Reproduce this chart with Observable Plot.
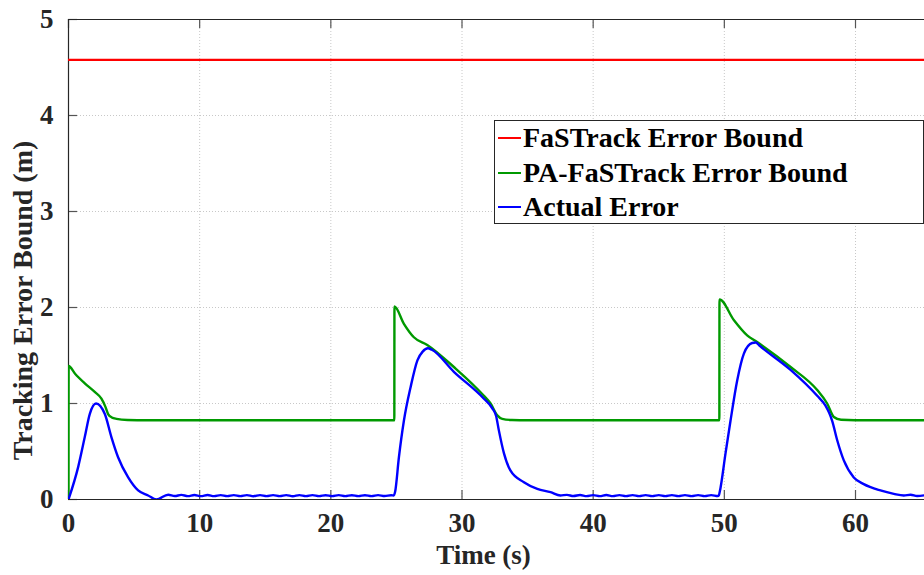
<!DOCTYPE html>
<html><head><meta charset="utf-8">
<script src="https://cdn.jsdelivr.net/npm/d3@7"></script>
<script src="https://cdn.jsdelivr.net/npm/@observablehq/plot@0.6"></script>
<style>
body{margin:0;background:#fff;}
#wrap{position:relative;width:924px;height:575px;overflow:hidden;}
#legend{position:absolute;left:494px;top:120px;width:428px;height:102px;border:1px solid #262626;background:#fff;font:bold 28px "Liberation Serif",serif;color:#000;}
.row{position:absolute;left:0;height:34px;display:flex;align-items:center;white-space:nowrap;}
.sw{display:inline-block;width:23px;height:2px;margin-left:3px;margin-right:2px;}
</style></head>
<body><div id="wrap"></div>
<script>
// ---- data ----
const xTicks = [0, 10, 20, 30, 40, 50, 60];
const yTicks = [0, 1, 2, 3, 4, 5];
const seriesNames = ["FaSTrack Error Bound", "PA-FaSTrack Error Bound", "Actual Error"];
const seriesColors = ["#ff0000", "#009900", "#0000ff"];

const redTime  = [0, 65.3];
const redBound = [4.58, 4.58];

const greenTime  = [0, 0.01, 0.5, 1.24, 2.0, 2.51, 2.8, 3.02, 3.3, 3.66, 4.5, 6, 24.84,
                    24.85, 25.57, 26.33, 27.35, 29.38, 31.67, 32.18, 32.69, 33.07, 33.8, 35, 49.62,
                    49.63, 50.72, 51.74, 52.5, 55.05, 57.08, 57.84, 58.35, 58.9, 60, 65.3];
const greenBound = [0, 1.39, 1.31, 1.21, 1.12, 1.05, 0.97, 0.89, 0.855, 0.84, 0.828, 0.825, 0.825,
                    2.01, 1.83, 1.69, 1.61, 1.38, 1.08, 1.0, 0.876, 0.84, 0.828, 0.825, 0.825,
                    2.085, 1.87, 1.71, 1.64, 1.38, 1.14, 1.0, 0.86, 0.83, 0.825, 0.825];

const blueTime = [0, 0.74, 1.24, 1.62, 2.1, 2.77, 3.27, 3.78, 4.55, 5.31, 6.07, 6.7, 7.6,
  8.1, 8.6, 9.1, 9.6, 10.1, 10.6, 11.1, 11.6, 12.1, 12.6, 13.1, 13.6, 14.1, 14.6, 15.1, 15.6,
  16.1, 16.6, 17.1, 17.6, 18.1, 18.6, 19.1, 19.6, 20.1, 20.6, 21.1, 21.6, 22.1, 22.6, 23.1,
  23.6, 24.1, 24.6, 24.8,
  24.9, 25.19, 25.57, 26.08, 26.6, 27.0, 27.4, 27.7, 29.38, 31.67, 32.31, 32.6, 32.81, 33.2,
  33.7, 34.72, 35.74, 36.75, 37.5,
  38.0, 38.5, 39.0, 39.5, 40.0, 40.5, 41.0, 41.5, 42.0, 42.5, 43.0, 43.5, 44.0, 44.5, 45.0,
  45.5, 46.0, 46.5, 47.0, 47.5, 48.0, 48.5, 49.0, 49.5, 49.58,
  49.65, 50.09, 50.47, 50.98, 51.49, 52.12, 52.4, 52.7, 55.05, 57.08, 57.7, 58.0, 58.22, 58.6,
  59.1, 59.87, 60.63, 61.9, 62.92, 63.68, 64.2, 64.7, 65.3];
const blueError = [0, 0.34, 0.65, 0.89, 1.0, 0.89, 0.65, 0.44, 0.23, 0.094, 0.042, 0.0, 0.05,
  0.036, 0.048, 0.035, 0.047, 0.035, 0.047, 0.035, 0.046, 0.035, 0.046, 0.035, 0.046, 0.034,
  0.046, 0.035, 0.046, 0.035, 0.046, 0.034, 0.046, 0.035, 0.046, 0.035, 0.045, 0.035, 0.046,
  0.035, 0.045, 0.035, 0.045, 0.035, 0.046, 0.036, 0.045, 0.042,
  0.08, 0.44, 0.82, 1.17, 1.45, 1.54, 1.575, 1.56, 1.33, 1.05, 0.95, 0.87, 0.72, 0.48,
  0.30, 0.18, 0.11, 0.076, 0.042,
  0.048, 0.036, 0.047, 0.035, 0.046, 0.035, 0.047, 0.035, 0.046, 0.035, 0.046, 0.035, 0.046,
  0.035, 0.046, 0.035, 0.046, 0.035, 0.046, 0.035, 0.046, 0.035, 0.046, 0.036, 0.042,
  0.08, 0.48, 0.82, 1.24, 1.52, 1.63, 1.635, 1.6, 1.35, 1.08, 0.98, 0.9, 0.82, 0.62,
  0.41, 0.23, 0.16, 0.094, 0.059, 0.042, 0.05, 0.036, 0.045];

// ---- tables ----
const zip = (ts, vs, name) => ts.map((t, i) => ({t, v: vs[i], name}));
const red = zip(redTime, redBound, seriesNames[0]);
const green = zip(greenTime, greenBound, seriesNames[1]);
const blue = zip(blueTime, blueError, seriesNames[2]);

const axisColor = "#262626";
const font = '"Liberation Serif", "Times New Roman", serif';

const chart = Plot.plot({
  width: 924, height: 575,
  marginLeft: 68, marginRight: 0, marginTop: 19, marginBottom: 76,
  x: {domain: [0, 65.26]},
  y: {domain: [0, 5]},
  style: {fontFamily: font, fontSize: "27px", fontWeight: "bold", color: axisColor, background: "#fff", overflow: "visible"},
  marks: [
    Plot.gridX(xTicks, {stroke: "#c8c8c8", strokeOpacity: 1, strokeDasharray: "1,2"}),
    Plot.gridY(yTicks, {stroke: "#c8c8c8", strokeOpacity: 1, strokeDasharray: "1,2"}),
    Plot.axisX(xTicks, {tickSize: 0, tickPadding: 13, label: null, fill: axisColor, tickFormat: d3.format("d")}),
    Plot.axisY(yTicks, {tickSize: 0, tickPadding: 15, label: null, fill: axisColor, tickFormat: d3.format("d")}),
    // inward ticks (bottom, top, left)
    Plot.ruleX(xTicks, {insetTop: 471, stroke: "#555", strokeWidth: 1.2}),
    Plot.ruleX(xTicks, {insetBottom: 471, stroke: "#555", strokeWidth: 1.2}),
    Plot.ruleY(yTicks, {insetRight: 847, stroke: "#555", strokeWidth: 1.2}),
    // box
    Plot.ruleX([0], {stroke: axisColor, strokeWidth: 1.2}),
    Plot.ruleY([0], {stroke: axisColor, strokeWidth: 1.2}),
    Plot.ruleY([5], {stroke: axisColor, strokeWidth: 1.2}),
    // series
    Plot.line(red, {x: "t", y: "v", stroke: seriesColors[0], strokeWidth: 2.2, clip: true}),
    Plot.line(green, {x: "t", y: "v", stroke: seriesColors[1], strokeWidth: 2.4, curve: "monotone-x", clip: true}),
    Plot.line(blue, {x: "t", y: "v", stroke: seriesColors[2], strokeWidth: 2.4, curve: "monotone-x", clip: true}),
    // axis titles
    Plot.text(["Time (s)"], {text: d => d, frameAnchor: "bottom", lineAnchor: "middle", textAnchor: "middle", dx: -13, dy: 56, fontSize: 27, fill: axisColor}),
    Plot.text(["Tracking Error Bound (m)"], {text: d => d, frameAnchor: "left", lineAnchor: "middle", textAnchor: "middle", rotate: -90, dx: -45, dy: 41, fontSize: 28, fill: axisColor})
  ]
});

const wrap = document.getElementById("wrap");
wrap.appendChild(chart);

// legend overlay
const legend = document.createElement("div");
legend.id = "legend";
const rowTops = [0, 35, 69];
seriesNames.forEach((name, i) => {
  const row = document.createElement("div");
  row.className = "row";
  row.style.top = rowTops[i] + "px";
  const sw = document.createElement("span");
  sw.className = "sw";
  sw.style.background = seriesColors[i];
  row.appendChild(sw);
  row.appendChild(document.createTextNode(name));
  legend.appendChild(row);
});
wrap.appendChild(legend);
</script>
</body></html>
